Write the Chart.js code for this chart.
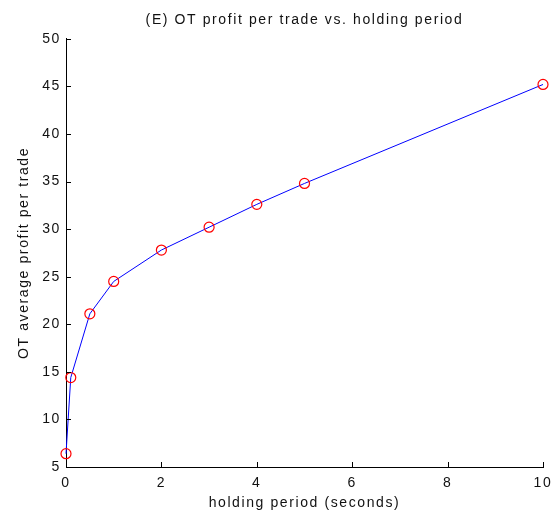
<!DOCTYPE html>
<html>
<head>
<meta charset="utf-8">
<script src="https://cdn.jsdelivr.net/npm/chart.js@4"></script>
<style>
  html, body { margin: 0; padding: 0; background: #fff; }
  #wrap { width: 552px; height: 513px; }
</style>
</head>
<body>
<div id="wrap"><canvas id="chart"></canvas></div>
<script>
// holding period (seconds) and OT average profit per trade
const holdingPeriod = [0, 0.1, 0.5, 1, 2, 3, 4, 5, 10];
const avgProfit = [6.4, 14.4, 21.1, 24.5, 27.8, 30.2, 32.6, 34.8, 45.2];
const xTicks = [0, 2, 4, 6, 8, 10];
const yTicks = [5, 10, 15, 20, 25, 30, 35, 40, 45, 50];

// the reference text is set a little wide, like a matlab export
const spacing = '1.6px';
const wideText = {
  id: 'wideText',
  beforeUpdate(chart) { chart.ctx.letterSpacing = spacing; },
  beforeDraw(chart) { chart.ctx.letterSpacing = spacing; }
};

// matlab style ticks pointing into the plot
const innerTicks = {
  id: 'innerTicks',
  afterDraw(chart) {
    const { ctx, chartArea, scales } = chart;
    ctx.save();
    ctx.strokeStyle = '#000';
    ctx.lineWidth = 1;
    ctx.beginPath();
    xTicks.forEach(v => {
      const x = Math.round(scales.x.getPixelForValue(v)) + 0.5;
      ctx.moveTo(x, chartArea.bottom);
      ctx.lineTo(x, chartArea.bottom - 5);
    });
    yTicks.forEach(v => {
      const y = Math.round(scales.y.getPixelForValue(v)) + 0.5;
      ctx.moveTo(chartArea.left, y);
      ctx.lineTo(chartArea.left + 5, y);
    });
    ctx.stroke();
    ctx.restore();
  }
};

const font = { family: 'Liberation Sans, Arial, sans-serif', size: 14 };

new Chart(document.getElementById('chart').getContext('2d'), {
  type: 'scatter',
  data: {
    datasets: [{
      data: holdingPeriod.map((x, i) => ({ x, y: avgProfit[i] })),
      showLine: true,
      borderColor: '#0000ff',
      borderWidth: 1,
      pointStyle: 'circle',
      pointRadius: 5,
      pointBorderColor: '#ff0000',
      pointBackgroundColor: 'rgba(0,0,0,0)',
      pointBorderWidth: 1.2,
      clip: false
    }]
  },
  options: {
    responsive: true,
    maintainAspectRatio: false,
    animation: false,
    layout: { padding: { top: 0, right: 9, bottom: 0, left: 0 } },
    plugins: {
      legend: { display: false },
      tooltip: { enabled: false },
      title: {
        display: true,
        fullSize: false,
        text: '(E) OT profit per trade vs. holding period',
        color: '#111',
        font: { ...font, weight: 'normal' },
        padding: { top: 12, bottom: 10 },
        align: 'center'
      }
    },
    scales: {
      x: {
        type: 'linear',
        min: 0,
        max: 10,
        afterBuildTicks: s => { s.ticks = xTicks.map(v => ({ value: v })); },
        afterFit: s => { s.paddingLeft = 0; s.paddingRight = 0; s.height = 46; },
        grid: { display: false, drawTicks: false },
        border: { display: true, color: '#000', width: 1 },
        ticks: { color: '#111', font: font, padding: 8 },
        title: { display: true, text: 'holding period (seconds)', color: '#111', font: font, padding: { top: 0, bottom: 1 } }
      },
      y: {
        type: 'linear',
        min: 5,
        max: 50,
        afterBuildTicks: s => { s.ticks = yTicks.map(v => ({ value: v })); },
        afterFit: s => { s.width = 66; },
        grid: { display: false, drawTicks: false },
        border: { display: true, color: '#000', width: 1 },
        ticks: { color: '#111', font: font, padding: 5 },
        title: { display: true, text: 'OT average profit per trade', color: '#111', font: font, padding: { top: 16, bottom: 0 } }
      }
    }
  },
  plugins: [wideText, innerTicks]
});
</script>
</body>
</html>
